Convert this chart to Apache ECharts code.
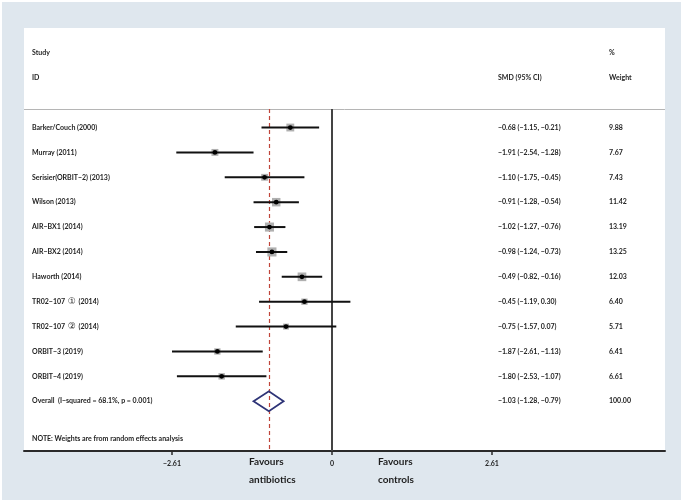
<!DOCTYPE html>
<html><head><meta charset="utf-8">
<script src="https://cdn.jsdelivr.net/npm/echarts@6/dist/echarts.min.js"></script>
<style>html,body{margin:0;padding:0;background:#fff}#c{width:684px;height:503px}</style>
</head><body><div id="c"></div><script>
// ---- data ----
const studies = ['Barker/Couch (2000)','Murray (2011)','Serisier(ORBIT\u22122) (2013)','Wilson (2013)',
  'AIR\u2212BX1 (2014)','AIR\u2212BX2 (2014)','Haworth (2014)','TR02\u2212107 \u2460 (2014)',
  'TR02\u2212107 \u2461 (2014)','ORBIT\u22123 (2019)','ORBIT\u22124 (2019)'];
const smd    = [-0.68,-1.91,-1.10,-0.91,-1.02,-0.98,-0.49,-0.45,-0.75,-1.87,-1.80];
const ciLow  = [-1.15,-2.54,-1.75,-1.28,-1.27,-1.24,-0.82,-1.19,-1.57,-2.61,-2.53];
const ciHigh = [-0.21,-1.28,-0.45,-0.54,-0.76,-0.73,-0.16, 0.30, 0.07,-1.13,-1.07];
const weights= [9.88,7.67,7.43,11.42,13.19,13.25,12.03,6.40,5.71,6.41,6.61];
const overallLabel = 'Overall  (I\u2212squared = 68.1%, p = 0.001)';
const overallSmd = -1.03, overallLow = -1.28, overallHigh = -0.79, overallWeight = 100.00;
const xTicks = [-2.61, 0, 2.61];
const noteText = 'NOTE: Weights are from random effects analysis';
const headers = {study:'Study', id:'ID', smd:'SMD (95% CI)', pct:'%', weight:'Weight'};
const favours = ['Favours','antibiotics','controls'];

// ---- helpers ----
const fmt = v => (v < 0 ? '\u2212' : '') + Math.abs(v).toFixed(2);
const ciText = (e,l,h) => fmt(e) + ' (' + fmt(l) + ', ' + fmt(h) + ')';
const FONT = 'Lato, "DejaVu Sans", sans-serif';
const TXT = '#1e1e1e';
const FS = 7;

const PX_PER_UNIT = 61.3, ZERO_X = 332, GRID_L = 24, GRID_R = 665;
const xMin = (GRID_L - ZERO_X) / PX_PER_UNIT, xMax = (GRID_R - ZERO_X) / PX_PER_UNIT;
const headLineRow = -0.74;
const COL_STUDY = 32, COL_SMD = 498, COL_W = 609;

// text rows
const textRows = [];
textRows.push({row:-3, a:headers.study, b:'', c:headers.pct});
textRows.push({row:-2, a:headers.id, b:headers.smd, c:headers.weight});
studies.forEach((s,i)=>textRows.push({row:i, a:s, b:ciText(smd[i],ciLow[i],ciHigh[i]), c:weights[i].toFixed(2)}));
textRows.push({row:studies.length, a:overallLabel, b:ciText(overallSmd,overallLow,overallHigh), c:overallWeight.toFixed(2)});
textRows.push({row:studies.length+1.5, a:noteText, b:'', c:''});

const forestData = studies.map((s,i)=>[i, smd[i], ciLow[i], ciHigh[i], weights[i]]);

function txt(x,y,t){
  const rich = /[\u2460-\u2473]/.test(t);
  const s = rich ? t.replace(/([\u2460-\u2473])/g, '{c|$1}') : t;
  return {type:'text', style:{text:s, x:x, y:y, fill:TXT, font:'bold ' + FS + 'px ' + FONT,
    textVerticalAlign:'middle', textAlign:'left',
    rich:{c:{fontSize:9, fontWeight:'normal', fontFamily:'"DejaVu Sans"', fill:TXT, padding:[0,1,0,1]}}}};
}

const chart = echarts.init(document.getElementById('c'));
chart.setOption({
  backgroundColor:'#fff',
  animation:false,
  graphic:[
    {type:'rect', z:-100, shape:{x:2,y:2,width:679,height:498}, style:{fill:'#dfe7ee'}},
    {type:'text', left:249, top:457, style:{text:favours[0], font:'bold 10px ' + FONT, fill:TXT}},
    {type:'text', left:249, top:475, style:{text:favours[1], font:'bold 10px ' + FONT, fill:TXT}},
    {type:'text', left:378, top:457, style:{text:favours[0], font:'bold 10px ' + FONT, fill:TXT}},
    {type:'text', left:378, top:475, style:{text:favours[2], font:'bold 10px ' + FONT, fill:TXT}}
  ],
  grid:{left:GRID_L, right:684-GRID_R, top:28, bottom:52, show:true, backgroundColor:'#fff', borderWidth:0},
  xAxis:{type:'value', min:xMin, max:xMax, splitLine:{show:false},
    axisLine:{show:true, onZero:false, lineStyle:{color:'#2a2a2a', width:2}},
    axisTick:{show:true, customValues:xTicks, length:4, lineStyle:{color:'#2a2a2a', width:1.5}},
    axisLabel:{show:true, customValues:xTicks, margin:9, fontSize:7, fontFamily:FONT, color:TXT, fontWeight:'bold',
      formatter:v=> Math.abs(v) < 1e-9 ? '0' : fmt(v)}},
  yAxis:{type:'value', inverse:true, min:-4, max:13, show:false},
  series:[
    {type:'custom', name:'text', silent:true, data:textRows.map(r=>[r.row]),
      renderItem:(params, api)=>{
        const r = textRows[params.dataIndex];
        const y = api.coord([0, api.value(0)])[1];
        return {type:'group', children:[txt(COL_STUDY,y,r.a), txt(COL_SMD,y,r.b), txt(COL_W,y,r.c)]};
      }},
    {type:'custom', name:'forest', silent:true, data:forestData, z:5,
      renderItem:(params, api)=>{
        const row = api.value(0);
        const p = api.coord([api.value(1), row]);
        const l = api.coord([api.value(2), row]);
        const h = api.coord([api.value(3), row]);
        const s = Math.sqrt(api.value(4)) * 2.5;
        return {type:'group', children:[
          {type:'rect', shape:{x:p[0]-s/2, y:p[1]-s/2, width:s, height:s}, style:{fill:'#b0b0b0'}},
          {type:'line', shape:{x1:l[0], y1:l[1], x2:h[0], y2:h[1]}, style:{stroke:'#111', lineWidth:2}},
          {type:'circle', shape:{cx:p[0], cy:p[1], r:2.4}, style:{fill:'#000'}}
        ]};
      },
      markLine:{silent:true, symbol:'none', label:{show:false},
        data:[
          [{coord:[xMin, headLineRow], lineStyle:{color:'#b5b5b5', width:1, type:'solid'}}, {coord:[xMax, headLineRow]}],
          [{coord:[0, headLineRow], lineStyle:{color:'#444', width:2, type:'solid'}}, {coord:[0, 13]}],
          [{coord:[overallSmd, headLineRow], lineStyle:{color:'#c0453a', width:1.2, type:[4,3]}}, {coord:[overallSmd, 13]}]
        ]}},
    {type:'custom', name:'overall', silent:true, z:6, data:[[studies.length, overallSmd, overallLow, overallHigh]],
      renderItem:(params, api)=>{
        const row = api.value(0);
        const a = api.coord([api.value(2), row]);
        const t = api.coord([api.value(1), row - 0.4]);
        const b = api.coord([api.value(3), row]);
        const d = api.coord([api.value(1), row + 0.4]);
        return {type:'polygon', shape:{points:[a,t,b,d]}, style:{fill:'none', stroke:'#2e3477', lineWidth:1.8}};
      }}
  ]
});
</script></body></html>
